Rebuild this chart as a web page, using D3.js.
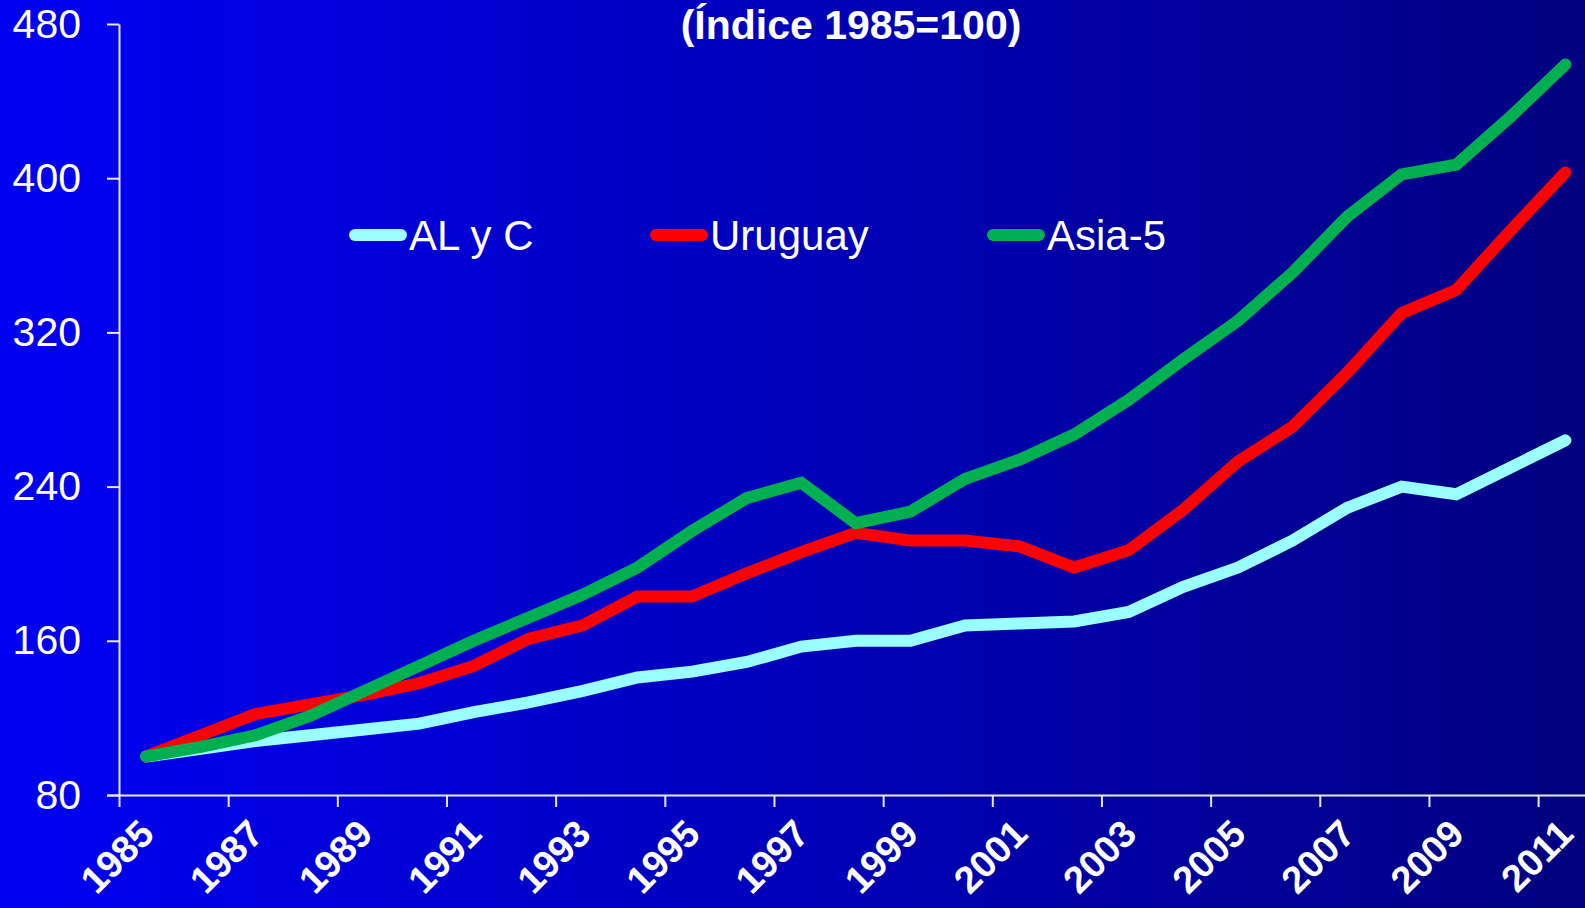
<!DOCTYPE html>
<html>
<head>
<meta charset="utf-8">
<script src="https://cdn.jsdelivr.net/npm/d3@7"></script>
<style>
  body { margin: 0; overflow: hidden; }
  text { font-family: "Liberation Sans", Arial, sans-serif; fill: #fff; }
</style>
</head>
<body>
<div id="chart"></div>
<script>
// Data (index 1985 = 100)
var years = d3.range(1985, 2012);
var alyc = [100, 104, 108, 111, 114, 117, 123, 128, 134, 141, 144, 149, 157, 160, 160, 168, 169, 170, 175, 188, 198, 212, 229, 240, 236, 250, 264];
var uruguay = [100, 111, 122, 127, 132, 138, 147, 161, 168, 183, 183, 195, 206, 216, 212, 212, 209, 198, 207, 228, 253, 271, 299, 330, 342, 373, 403];
var asia5 = [100, 105, 111, 121, 134, 147, 160, 172, 184, 198, 217, 234, 242, 221, 227, 244, 254, 267, 285, 306, 326, 351, 380, 402, 407, 432, 459];
var yTicks = [80, 160, 240, 320, 400, 480];
var seriesNames = ["AL y C", "Uruguay", "Asia-5"];
var seriesColors = ["#99ffff", "#ff0000", "#00b050"];
var titleText = "(Índice 1985=100)";

var svgWidth = 1585;
var svgHeight = 908;

var svg = d3.select("#chart").append("svg")
  .attr("width", svgWidth)
  .attr("height", svgHeight);

// background gradient, bright blue to navy
var grad = svg.append("defs").append("linearGradient")
  .attr("id", "bg").attr("x1", "0%").attr("x2", "100%").attr("y1", "0%").attr("y2", "0%");
grad.append("stop").attr("offset", "0%").attr("stop-color", "#0000f4");
grad.append("stop").attr("offset", "100%").attr("stop-color", "#000080");
svg.append("rect").attr("width", svgWidth).attr("height", svgHeight).attr("fill", "url(#bg)");

// scales
var plotLeft = 119, plotRight = 1592.7, plotTop = 24, plotBottom = 795;
var x = d3.scaleLinear().domain([1984.5, 2011.5]).range([plotLeft, plotRight]);
var y = d3.scaleLinear().domain([80, 480]).range([plotBottom, plotTop]);

// title (kept just inside the top edge)
svg.append("text")
  .attr("x", 851).attr("y", 39)
  .attr("text-anchor", "middle")
  .attr("font-size", "41px")
  .attr("font-weight", "bold")
  .text(titleText);

// y axis
var yAxis = svg.append("g")
  .attr("transform", `translate(${plotLeft},0)`)
  .call(d3.axisLeft(y).tickValues(yTicks).tickSize(12).tickPadding(26).tickSizeOuter(0));
yAxis.select(".domain").attr("stroke", "#e8e8e8").attr("stroke-width", 2);
yAxis.selectAll(".tick line").attr("stroke", "#e8e8e8").attr("stroke-width", 2);
yAxis.selectAll(".tick text")
  .attr("font-family", "Liberation Sans, Arial, sans-serif")
  .attr("font-size", "41px")
  .attr("fill", "#fff");

// x axis: ticks on category boundaries, every two years
var boundaries = years.filter((d, i) => i % 2 === 0).map(d => d - 0.5);
var xAxis = svg.append("g")
  .attr("transform", `translate(0,${plotBottom})`)
  .call(d3.axisBottom(x).tickValues(boundaries).tickSize(12).tickFormat("").tickSizeOuter(0));
xAxis.select(".domain").attr("stroke", "#e8e8e8").attr("stroke-width", 2)
  .attr("d", `M${plotLeft - 12},0.5H${svgWidth}`);
xAxis.selectAll(".tick line").attr("stroke", "#e8e8e8").attr("stroke-width", 2);

// rotated year labels
svg.append("g").selectAll("text")
  .data(years.filter((d, i) => i % 2 === 0))
  .enter().append("text")
  .attr("transform", d => `translate(${x(d) + 10},${plotBottom + 41}) rotate(-45)`)
  .attr("text-anchor", "end")
  .attr("font-size", "38px")
  .attr("font-weight", "bold")
  .text(d => d);

// lines
var allSeries = [alyc, uruguay, asia5];
var line = d3.line()
  .x((d, i) => x(years[i]))
  .y(d => y(d));

svg.append("g").selectAll("path")
  .data(allSeries)
  .enter().append("path")
  .attr("d", d => line(d))
  .attr("fill", "none")
  .attr("stroke", (d, i) => seriesColors[i])
  .attr("stroke-width", 12)
  .attr("stroke-linecap", "round")
  .attr("stroke-linejoin", "miter");

// legend
var legendX = [349, 650, 987];
var legend = svg.append("g").selectAll("g")
  .data(seriesNames)
  .enter().append("g")
  .attr("transform", (d, i) => `translate(${legendX[i]},235)`);
legend.append("line")
  .attr("x1", 6).attr("x2", 52).attr("y1", 0).attr("y2", 0)
  .attr("stroke", (d, i) => seriesColors[i])
  .attr("stroke-width", 12)
  .attr("stroke-linecap", "round");
legend.append("text")
  .attr("x", 60).attr("y", 15)
  .attr("font-size", "42px")
  .text(d => d);
</script>
</body>
</html>
